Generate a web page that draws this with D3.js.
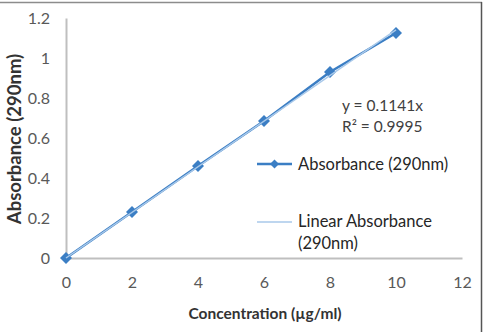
<!DOCTYPE html>
<html><head><meta charset="utf-8">
<script src="https://cdn.jsdelivr.net/npm/d3@7"></script>
<style>body{margin:0;background:#fff}svg{display:block;font-family:Lato,"Open Sans",sans-serif}</style>
</head><body>
<script>
const concentrations = [0, 2, 4, 6, 8, 10];
const absorbance = [0, 0.23, 0.46, 0.685, 0.93, 1.125];
const xTicks = [0, 2, 4, 6, 8, 10, 12];
const yTicks = [0, 0.2, 0.4, 0.6, 0.8, 1, 1.2];
const slope = 0.1141;
const equationLines = ["y = 0.1141x", "R² = 0.9995"];
const seriesName = "Absorbance (290nm)";
const trendNameLines = ["Linear Absorbance", "(290nm)"];
const xTitle = "Concentration (µg/ml)";
const yTitle = "Absorbance (290nm)";

const W = 487, H = 332;
const svg = d3.select("body").append("svg").attr("width", W).attr("height", H);
// frame
svg.append("line").attr("x1",0).attr("x2",482).attr("y1",2.5).attr("y2",2.5).attr("stroke","#8c8c8c").attr("stroke-width",1.5);
svg.append("line").attr("x1",481.5).attr("x2",481.5).attr("y1",2).attr("y2",H).attr("stroke","#555").attr("stroke-width",1.5);

const x = d3.scaleLinear().domain([0,12]).range([66,462]);
const y = d3.scaleLinear().domain([0,1.2]).range([258,18]);

const axisColor = "#bfbfbf";
const tickColor = "#595959";
const gx = svg.append("g").attr("transform","translate(0,258)")
  .call(d3.axisBottom(x).tickValues(xTicks).tickSize(0).tickPadding(19).tickFormat(d3.format("d")));
gx.select(".domain").attr("stroke",axisColor).attr("stroke-width",2);
gx.selectAll("text").attr("font-size",16).attr("fill",tickColor).attr("font-family","Lato,sans-serif");

const gy = svg.append("g").attr("transform","translate(66,0)")
  .call(d3.axisLeft(y).tickValues(yTicks).tickSize(0).tickPadding(16).tickFormat(d => String(d)));
gy.select(".domain").attr("stroke",axisColor).attr("stroke-width",2);
gy.selectAll("text").attr("font-size",16).attr("fill",tickColor).attr("font-family","Lato,sans-serif");

const blue = "#3b7ec4", light = "#a9c9ea";
// series line
const line = d3.line().x((d,i)=>x(concentrations[i])).y(d=>y(d));
svg.append("path").datum(absorbance).attr("d",line).attr("fill","none").attr("stroke",blue).attr("stroke-width",2.5);
// markers (diamonds)
const sq = d3.symbol().type(d3.symbolSquare).size(72);
svg.selectAll(".mk").data(absorbance).join("path")
  .attr("transform",(d,i)=>`translate(${x(concentrations[i])},${y(d)}) rotate(45)`)
  .attr("d", sq).attr("fill",blue);
// trendline
svg.append("line").attr("x1",x(0)).attr("y1",y(0)).attr("x2",x(10)).attr("y2",y(slope*10))
  .attr("stroke",light).attr("stroke-width",1.5);

// equation
svg.append("text").attr("x",342).attr("y",111).attr("font-size",15.5).attr("fill","#404040").text(equationLines[0]);
svg.append("text").attr("x",342).attr("y",132).attr("font-size",15.5).attr("fill","#404040").text(equationLines[1]);

// legend
svg.append("line").attr("x1",257).attr("x2",292).attr("y1",164).attr("y2",164).attr("stroke",blue).attr("stroke-width",2.5);
svg.append("path").attr("transform","translate(274.5,164) rotate(45)").attr("d",d3.symbol().type(d3.symbolSquare).size(40)).attr("fill",blue);
svg.append("text").attr("x",298).attr("y",170).attr("font-size",16.5).attr("fill","#262626").text(seriesName);
svg.append("line").attr("x1",257).attr("x2",292).attr("y1",222).attr("y2",222).attr("stroke",light).attr("stroke-width",1.5);
svg.append("text").attr("x",298).attr("y",227).attr("font-size",16.5).attr("fill","#262626").text(trendNameLines[0]);
svg.append("text").attr("x",298).attr("y",249).attr("font-size",16.5).attr("fill","#262626").text(trendNameLines[1]);

// axis titles
svg.append("text").attr("x",265).attr("y",319).attr("text-anchor","middle").attr("font-size",15.5).attr("font-weight","bold").attr("fill","#333").text(xTitle);
svg.append("text").attr("transform","translate(21,139) rotate(-90)").attr("text-anchor","middle").attr("font-size",18.5).attr("font-weight","bold").attr("fill","#333").text(yTitle);
</script>
</body></html>
